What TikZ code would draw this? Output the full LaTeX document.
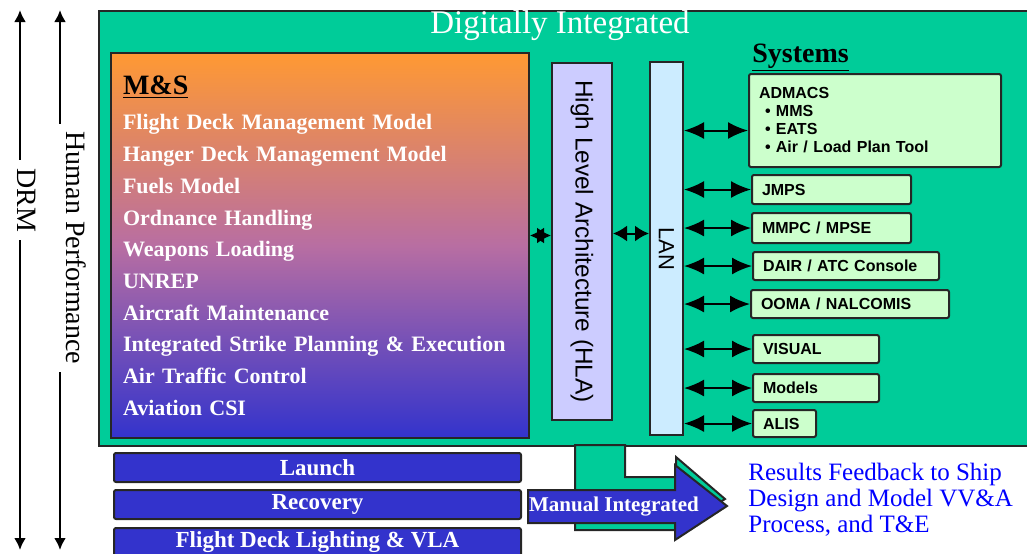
\documentclass[tikz,border=0pt]{standalone}
\usepackage{fontspec}
\setmainfont{Liberation Serif}
\setsansfont{Liberation Sans}
\usepackage{graphicx}
\usetikzlibrary{arrows.meta, positioning, calc}
\definecolor{diGreen}{HTML}{00CC99}
\definecolor{msOrange}{HTML}{FF9933}
\definecolor{msMid}{HTML}{B86EA2}
\definecolor{msBlue}{HTML}{3333CC}
\definecolor{hlaLav}{HTML}{CCCCFF}
\definecolor{lanBlue}{HTML}{CCECFF}
\definecolor{sysGreen}{HTML}{CCFFCC}
\definecolor{fbBlue}{HTML}{0000FF}
\definecolor{edgeGray}{HTML}{262626}

\begin{document}
\begin{tikzpicture}[x=0.5pt, y=-0.5pt,
  frame/.style={draw=edgeGray, line width=1pt},
  sysbox/.style={frame, fill=sysGreen, rounded corners=1pt, anchor=west, align=left, inner xsep=5pt, inner ysep=0pt, font=\sffamily\bfseries\fontsize{8}{9}\selectfont},
  bar/.style={frame, fill=msBlue, rounded corners=1pt, minimum width=203.5pt, minimum height=14.5pt, inner sep=0pt, text=white, font=\bfseries\fontsize{11.5}{13}\selectfont},
  e/.style={{Latex[length=10pt,width=8.5pt]}-{Latex[length=10pt,width=8.5pt]}, line width=1pt},
  se/.style={{Latex[length=7pt,width=8pt]}-{Latex[length=7pt,width=8pt]}, line width=1pt},
  side/.style={{Latex[length=6pt,width=6pt]}-{Latex[length=6pt,width=6pt]}, line width=1.3pt},
  vlabel/.style={fill=white, inner sep=4pt, font=\fontsize{14}{16}\selectfont}]
  \useasboundingbox (0,0) rectangle (1027,553);

  \node[frame, fill=diGreen, anchor=north west, minimum width=471pt, minimum height=217.5pt, inner sep=0pt] (digi) at (98,10) {};
  \node[anchor=base, text=white, font=\fontsize{16.5}{18}\selectfont] (digitxt) at (560,33) {Digitally Integrated};

  \node[frame, anchor=north west, top color=msOrange, bottom color=msBlue, middle color=msMid,
        minimum width=209pt, minimum height=192.5pt, text width=197pt, inner xsep=6pt, align=left,
        text=white, font=\bfseries\fontsize{11}{15.85}\selectfont] (ms) at (110,52)
    {{\color{black}\fontsize{14}{16}\selectfont\underline{M\&S}}\\[2pt]
     Flight Deck Management Model\\
     Hanger Deck Management Model\\
     Fuels Model\\
     Ordnance Handling\\
     Weapons Loading\\
     UNREP\\
     Aircraft Maintenance\\
     Integrated Strike Planning \& Execution\\
     Air Traffic Control\\
     Aviation CSI};

  \node[frame, fill=hlaLav, minimum width=30pt, minimum height=178.5pt, inner sep=0pt, font=\sffamily\fontsize{12.2}{14}\selectfont] (hla) at (582,241.5) {\rotatebox{-90}{High Level Architecture (HLA)}};
  \node[frame, fill=lanBlue, minimum width=16.5pt, minimum height=186.5pt, inner sep=0pt, font=\sffamily\fontsize{11}{13}\selectfont] (lan) at (666.5,248.5) {\rotatebox{-90}{LAN}};

  \node[anchor=base west, inner sep=0pt, font=\bfseries\fontsize{14}{16}\selectfont] (systitle) at (752,62) {\underline{Systems}};
  \node[sysbox, text width=116pt, minimum height=46.5pt] (admacs) at (748,120.5)
    {ADMACS\\\hspace*{3pt}\textbullet\ MMS\\\hspace*{3pt}\textbullet\ EATS\\\hspace*{3pt}\textbullet\ Air / Load Plan Tool};
  \node[sysbox, text width=69.5pt, minimum height=14.5pt] (jmps) at (751,189.5) {JMPS};
  \node[sysbox, text width=69.5pt, minimum height=15pt] (mmpc) at (751,228) {MMPC / MPSE};
  \node[sysbox, text width=83pt, minimum height=14pt] (dair) at (752,266) {DAIR / ATC Console};
  \node[sysbox, text width=89pt, minimum height=14pt] (ooma) at (750,304) {OOMA / NALCOMIS};
  \node[sysbox, text width=53pt, minimum height=14pt] (visual) at (752,349) {VISUAL};
  \node[sysbox, text width=53pt, minimum height=14pt] (models) at (752,388) {Models};
  \node[sysbox, text width=21.5pt, minimum height=13.5pt] (alis) at (752,423.5) {ALIS};

  \draw[se] ([yshift=5pt]ms.east) -- ([yshift=5pt]ms.east -| hla.west);
  \draw[se] ([yshift=4pt]hla.east) -- ([yshift=4pt]hla.east -| lan.west);
  \draw[e] ([yshift=-5pt]admacs.west -| lan.east) -- ([yshift=-5pt]admacs.west);
  \draw[e] (lan.east |- jmps.west) -- (jmps.west); \draw[e] (lan.east |- mmpc.west) -- (mmpc.west);
  \draw[e] (lan.east |- dair.west) -- (dair.west); \draw[e] (lan.east |- ooma.west) -- (ooma.west);
  \draw[e] (lan.east |- visual.west) -- (visual.west); \draw[e] (lan.east |- models.west) -- (models.west);
  \draw[e] (lan.east |- alis.west) -- (alis.west);

  \node[bar] (launch) at (317.5,467.5) {Launch};
  \node[bar, below=3pt of launch] (recovery) {Recovery};
  \node[bar, below=3.5pt of recovery] (fdl) {Flight Deck Lighting \& VLA};

  \filldraw[fill=diGreen, draw=edgeGray, line width=1pt] (575,445) -- (625,445) -- (625,477) -- (676,477) -- (676,457) -- (725,499) -- (676,530) -- (575,530) -- cycle;
  \filldraw[fill=msBlue, draw=edgeGray, line width=1pt] (528,490) -- (675,490) -- (675,465) -- (727,506) -- (675,540) -- (675,523) -- (528,523) -- cycle;
  \node[text=white, inner sep=0pt, font=\bfseries\fontsize{10.5}{12}\selectfont] (manual) at (614,507) {Manual Integrated};

  \node[anchor=north west, align=left, text=fbBlue, inner sep=0pt, font=\fontsize{12.5}{13}\selectfont] (results) at (748,463)
    {Results Feedback to Ship\\Design and Model VV\&A\\Process, and T\&E};

  \coordinate (drmtop) at (20,10); \coordinate (drmbot) at (20,550);
  \coordinate (hptop) at (60,10); \coordinate (hpbot) at (60,550);
  \draw[side] (drmtop) -- (drmbot);
  \draw[side] (hptop) -- (hpbot);
  \node[vlabel] (drm) at (27,200) {\rotatebox{-90}{DRM}};
  \node[vlabel] (hp) at (76,248) {\rotatebox{-90}{Human Performance}};
\end{tikzpicture}
\end{document}
